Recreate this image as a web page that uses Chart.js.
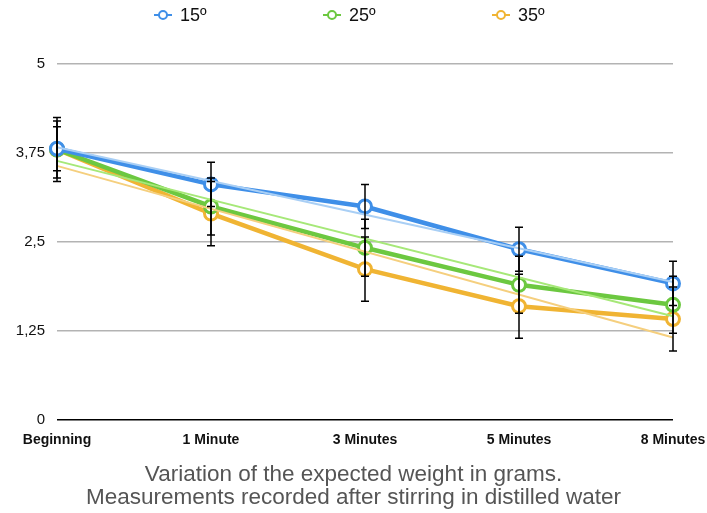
<!DOCTYPE html>
<html>
<head>
<meta charset="utf-8">
<script src="https://cdn.jsdelivr.net/npm/chart.js@4.4.0/dist/chart.umd.min.js"></script>
<style>
  html, body { margin: 0; padding: 0; background: #fff; }
  #wrap { position: relative; width: 707px; height: 513px; }
  #legend { position: absolute; top: 4px; left: 0; width: 707px; height: 22px;
            font-family: "Liberation Sans", Arial, sans-serif; font-size: 18px; color: #111; }
  .item { position: absolute; top: 0; display: flex; align-items: center; }
  .mark { position: relative; width: 18px; height: 22px; margin-right: 8px; }
  .mark .ln { position: absolute; left: 0; top: 10px; width: 18px; height: 2px; }
  .mark .dot { position: absolute; left: 4px; top: 6px; width: 6px; height: 6px; border-radius: 50%;
               background: #fff; border: 2.5px solid; }
</style>
</head>
<body>
<div id="wrap">
  <canvas id="chart" width="707" height="513"></canvas>
  <div id="legend"></div>
</div>
<script>
const categories = ['Beginning', '1 Minute', '3 Minutes', '5 Minutes', '8 Minutes'];
const seriesNames = ['15º', '25º', '35º'];
const colors = ['#3f8fe8', '#6cc840', '#f0b433'];
const trendColors = ['#a9cff5', '#a6e878', '#f5cf7e'];

const temp15 = [3.81, 3.31, 3.00, 2.40, 1.92];
const temp25 = [3.80, 3.00, 2.42, 1.90, 1.62];
const temp35 = [3.80, 2.90, 2.12, 1.60, 1.42];

// error bar half-widths
const errors = [0.31, 0.40, 0.45];

// trend line ends (Beginning, 8 Minutes)
const trend15 = [3.83, null, null, null, 1.94];
const trend25 = [3.64, null, null, null, 1.46];
const trend35 = [3.57, null, null, null, 1.16];

const yTicks = [0, 1.25, 2.5, 3.75, 5];

const values = [temp15, temp25, temp35];
const trends = [trend15, trend25, trend35];

// html legend
const legend = document.getElementById('legend');
const legendX = [154, 323, 492];
seriesNames.forEach((name, i) => {
    const el = document.createElement('div');
    el.className = 'item';
    el.style.left = legendX[i] + 'px';
    el.innerHTML = `<div class="mark"><div class="ln" style="background:${colors[i]}"></div>` +
        `<div class="dot" style="border-color:${colors[i]}"></div></div><span>${name}</span>`;
    legend.appendChild(el);
});

const datasets = [];
values.forEach((v, i) => {
    datasets.push({
        label: seriesNames[i],
        data: v,
        borderColor: colors[i],
        backgroundColor: '#fff',
        borderWidth: 4.5,
        pointRadius: 6.5,
        pointBorderWidth: 3,
        pointBackgroundColor: '#fff',
        pointBorderColor: colors[i],
        tension: 0,
        order: 2
    });
});
trends.forEach((t, i) => {
    datasets.push({
        label: 'trend ' + seriesNames[i],
        data: t,
        borderColor: trendColors[i],
        borderWidth: 2,
        pointRadius: 0,
        spanGaps: true,
        order: 1
    });
});

const errorBars = {
    id: 'errorBars',
    afterDatasetsDraw(chart) {
        const { ctx, scales: { x, y } } = chart;
        ctx.save();
        ctx.strokeStyle = '#000';
        ctx.lineWidth = 1.5;
        values.forEach((v, i) => {
            v.forEach((val, j) => {
                const px = x.getPixelForValue(j);
                const top = y.getPixelForValue(val + errors[i]);
                const bot = y.getPixelForValue(val - errors[i]);
                ctx.beginPath();
                ctx.moveTo(px, top); ctx.lineTo(px, bot);
                ctx.moveTo(px - 4, top); ctx.lineTo(px + 4, top);
                ctx.moveTo(px - 4, bot); ctx.lineTo(px + 4, bot);
                ctx.stroke();
            });
        });
        ctx.restore();
    }
};

new Chart(document.getElementById('chart'), {
    type: 'line',
    data: { labels: categories, datasets: datasets },
    options: {
        responsive: false,
        animation: false,
        events: [],
        layout: { padding: { top: 64, right: 0, left: 0, bottom: 4 } },
        plugins: {
            legend: { display: false },
            tooltip: { enabled: false },
            title: {
                display: true,
                position: 'bottom',
                text: ['Variation of the expected weight in grams.', 'Measurements recorded after stirring in distilled water'],
                color: '#555',
                font: { family: 'Liberation Sans', size: 22.5, weight: 'normal', lineHeight: 1.0 },
                padding: { top: 3, bottom: 0 }
            }
        },
        scales: {
            x: {
                offset: false,
                grid: { display: false, drawTicks: false },
                border: { display: false },
                afterFit: s => { s.paddingRight = 34; s.paddingLeft = 0; },
                ticks: {
                    color: '#111',
                    padding: 12,
                    maxRotation: 0,
                    font: { family: 'Liberation Sans', size: 14, weight: 'bold' }
                }
            },
            y: {
                min: 0,
                max: 5,
                afterBuildTicks: s => { s.ticks = yTicks.map(v => ({ value: v })); },
                afterFit: s => { s.width = 57; },
                border: { display: false },
                grid: {
                    drawTicks: false,
                    lineWidth: 1.5,
                    color: c => c.tick && c.tick.value === 0 ? '#000' : '#b3b3b3'
                },
                ticks: {
                    color: '#111',
                    padding: 12,
                    font: { family: 'Liberation Sans', size: 15 },
                    callback: v => String(v).replace('.', ',')
                }
            }
        }
    },
    plugins: [errorBars]
});
</script>
</body>
</html>
